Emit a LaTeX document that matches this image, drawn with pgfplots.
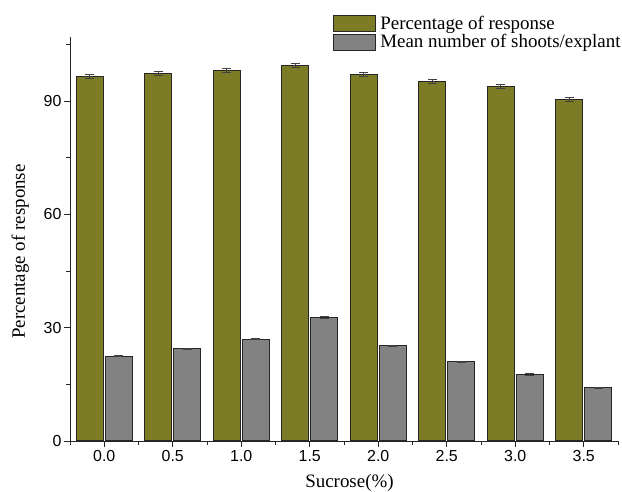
\documentclass[border=0pt]{standalone}
\usepackage{pgfplots}
\pgfplotsset{compat=1.18}
\usepackage{fontspec}
\setmainfont{Liberation Serif}
\newfontfamily\arialf{Liberation Sans}
\definecolor{olive}{RGB}{124,124,38}
\definecolor{greybar}{RGB}{130,130,130}
\begin{document}
\begin{tikzpicture}
\begin{axis}[
  name=ax,
  scale only axis,
  width=548bp, height=404bp,
  ybar, bar width=27bp,
  xmin=-0.5, xmax=7.5,
  ymin=0, ymax=107,
  axis x line=bottom, axis y line=left,
  axis line style={-, line width=0.9bp, black!85},
  xtick={0,...,7},
  xticklabels={0.0,0.5,1.0,1.5,2.0,2.5,3.0,3.5},
  minor xtick={-0.5,0.5,1.5,2.5,3.5,4.5,5.5,6.5,7.5},
  ytick={0,30,60,90},
  minor ytick={15,45,75,105},
  tick align=outside,
  major tick length=6bp, minor tick length=4bp,
  tick style={line width=0.9bp, black!85},
  ticklabel style={font=\arialf\fontsize{16}{18}\selectfont},
  yticklabel style={xshift=1bp},
  /pgf/number format/assume math mode=true,
  xlabel={Sucrose(\%)},
  ylabel={Percentage of response},
  every axis x label/.style={at={(rel axis cs:0.51,-0.104)}, anchor=center, font=\fontsize{19}{22}\selectfont},
  every axis y label/.style={at={(rel axis cs:-0.091,0.469)}, rotate=90, anchor=center, font=\fontsize{19}{22}\selectfont},
  legend style={draw=none, fill=none, at={(rel axis cs:0.480,1.058)}, anchor=north west,
    font=\fontsize{19}{22}\selectfont, row sep=0bp, inner sep=0pt,
    legend cell align=left},
  error bars/y dir=both, error bars/y explicit,
  error bars/error bar style={line width=0.8bp, black!75},
  error bars/error mark options={rotate=90, mark size=4.5bp, line width=0.8bp, black!75},
]
\addplot[fill=olive, draw=black!85, line width=1.1bp,
  legend image code/.code={\draw[fill=olive, draw=black!85, line width=1.1bp] (0bp,-8.5bp) rectangle (42bp,7.5bp);}]
  coordinates {(0,96.6) +- (0,0.5) (1,97.3) +- (0,0.5) (2,98.1) +- (0,0.5) (3,99.4) +- (0,0.5)
               (4,97.1) +- (0,0.5) (5,95.3) +- (0,0.5) (6,93.9) +- (0,0.5) (7,90.5) +- (0,0.5)};
\addlegendentry{\hspace{2bp}Percentage of response}
\addplot[fill=greybar, draw=black!85, line width=1.1bp,
  legend image code/.code={\draw[fill=greybar, draw=black!85, line width=1.1bp] (0bp,-8.5bp) rectangle (42bp,7.5bp);}]
  coordinates {(0,22.5) +- (0,0.2) (1,24.4) +- (0,0.2) (2,27.0) +- (0,0.2) (3,32.7) +- (0,0.2)
               (4,25.2) +- (0,0.2) (5,21.0) +- (0,0.2) (6,17.7) +- (0,0.2) (7,14.1) +- (0,0.2)};
\addlegendentry{\hspace{2bp}Mean number of shoots/explant}
\end{axis}
\pgfresetboundingbox
\path[use as bounding box] ([xshift=-70bp,yshift=-50bp]ax.south west) rectangle ([xshift=4bp,yshift=37bp]ax.north east);
\end{tikzpicture}
\end{document}
